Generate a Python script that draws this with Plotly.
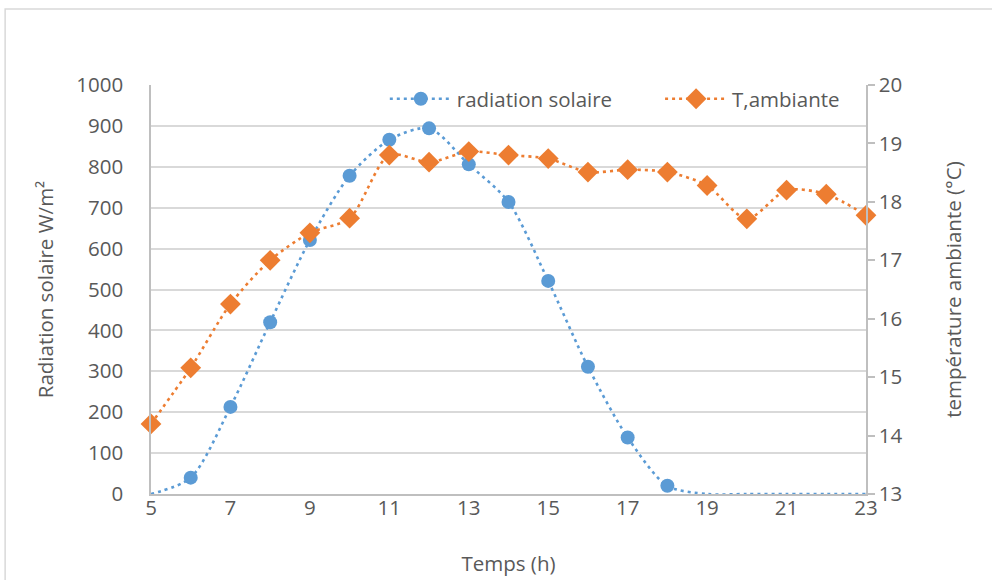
import numpy as np
import plotly.graph_objects as go

# Hourly measurements
heures = list(range(5, 24))
radiation = [0, 40, 213, 420, 621, 778, 866, 894, 806, 714, 521, 311, 138, 20, 0, 0, 0, 0, 0]
temperature = [14.2, 15.16, 16.25, 17.0, 17.47, 17.72, 18.8, 18.68, 18.86, 18.8, 18.74,
               18.51, 18.55, 18.51, 18.28, 17.71, 18.2, 18.13, 17.77]

x_ticks = list(range(5, 24, 2))
y_ticks = list(range(0, 1001, 100))
y2_ticks = list(range(13, 21))

BLEU = "#5B9BD5"
ORANGE = "#ED7D31"
TEXTE = "#595959"
GRILLE = "#D9D9D9"
AXE = "#BFBFBF"
POLICE = "Open Sans"
TAILLE = 20.5

x_arr = np.array(heures)
r_arr = np.array(radiation)
avec_valeur = r_arr > 0

fig = go.Figure()

# Radiation: smoothed dotted line, markers only on non-zero hours
fig.add_trace(go.Scatter(
    x=heures, y=radiation, mode="lines", showlegend=False, cliponaxis=False,
    line=dict(color=BLEU, width=2.6, dash="3px,4px", shape="spline", smoothing=0.8),
    hoverinfo="skip",
))
fig.add_trace(go.Scatter(
    x=x_arr[avec_valeur], y=r_arr[avec_valeur], mode="markers", showlegend=False,
    cliponaxis=False, marker=dict(color=BLEU, size=14, symbol="circle"),
))

# Ambient temperature on secondary axis
fig.add_trace(go.Scatter(
    x=heures, y=temperature, mode="lines+markers", name="T,ambiante", yaxis="y2",
    showlegend=False, cliponaxis=False,
    line=dict(color=ORANGE, width=2.6, dash="3px,4px", shape="spline", smoothing=0.8),
    marker=dict(color=ORANGE, size=16, symbol="diamond"),
))

# Legend entries, one legend box each
fig.add_trace(go.Scatter(
    x=[None], y=[None], mode="lines+markers", name="radiation solaire", legend="legend",
    line=dict(color=BLEU, width=2.6, dash="3px,4px"),
    marker=dict(color=BLEU, size=14, symbol="circle"),
))
fig.add_trace(go.Scatter(
    x=[None], y=[None], mode="lines+markers", name="T,ambiante", legend="legend2",
    line=dict(color=ORANGE, width=2.6, dash="3px,4px"),
    marker=dict(color=ORANGE, size=16, symbol="diamond"),
))

legende = dict(
    orientation="h", y=0.966, xanchor="left", yanchor="middle",
    bgcolor="rgba(255,255,255,0)", font=dict(size=TAILLE, color=TEXTE),
    itemclick=False, itemwidth=62,
)

fig.update_layout(
    width=992, height=580,
    margin=dict(l=151, r=126, t=85, b=86),
    paper_bgcolor="white", plot_bgcolor="white",
    font=dict(family=POLICE, size=TAILLE, color=TEXTE),
    xaxis=dict(
        range=[5, 23], tickvals=x_ticks, showgrid=False, zeroline=False,
        showline=True, linecolor=AXE, linewidth=1.5, ticks="", automargin=False,
        ticklabelstandoff=-5,
        title=dict(text="Temps (h)", font=dict(size=TAILLE, color=TEXTE), standoff=36),
        tickfont=dict(size=TAILLE, color=TEXTE),
    ),
    yaxis=dict(
        range=[0, 1000], tickvals=y_ticks, showgrid=True, gridcolor=GRILLE, gridwidth=1.5,
        zeroline=False, showline=True, linecolor=AXE, linewidth=1.5, ticks="",
        ticklabelstandoff=22, automargin=False,
        title=dict(text="Radiation solaire W/m²", font=dict(size=TAILLE, color=TEXTE), standoff=17),
        tickfont=dict(size=TAILLE, color=TEXTE),
    ),
    yaxis2=dict(
        range=[13, 20], tickvals=y2_ticks, overlaying="y", side="right", showgrid=False,
        zeroline=False, showline=True, linecolor=AXE, linewidth=1.5, automargin=False,
        ticks="outside", ticklen=7, tickcolor=AXE, tickwidth=1.5,
        title=dict(text="température ambiante (°C)", font=dict(size=TAILLE, color=TEXTE), standoff=45),
        tickfont=dict(size=TAILLE, color=TEXTE),
    ),
    legend=dict(legende, x=0.327),
    legend2=dict(legende, x=0.712),
    shapes=[
        dict(type="rect", xref="paper", yref="paper", x0=-0.204, x1=1.2, y0=-0.3, y1=1.186,
             line=dict(color=GRILLE, width=1.5), fillcolor="rgba(0,0,0,0)", layer="below"),
    ],
)

fig.write_html("out.html")
